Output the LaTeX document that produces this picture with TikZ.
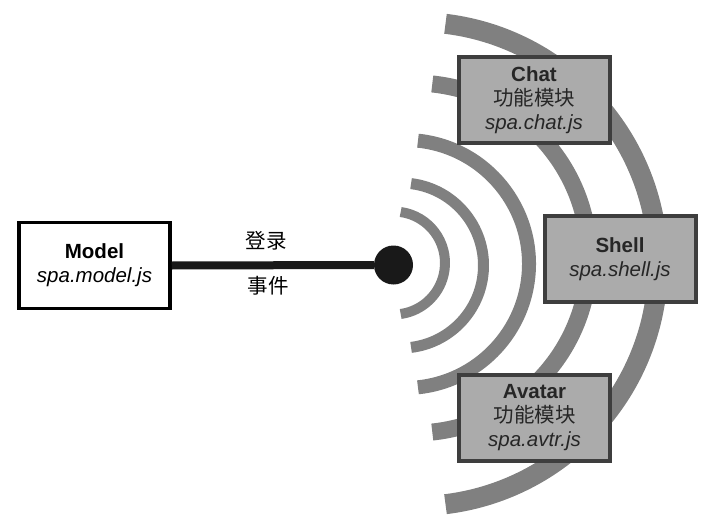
\documentclass[tikz,border=0pt]{standalone}
\usepackage{fontspec}
\setmainfont{Liberation Sans}
\newfontfamily\cjk{Noto Sans CJK SC}
\definecolor{wavegray}{RGB}{128,128,128}
\definecolor{modfill}{RGB}{171,171,171}
\definecolor{modedge}{RGB}{62,62,62}
\tikzset{
  txt/.style={font=\fontsize{20.5}{24}\selectfont, align=center},
  module/.style={txt, draw=modedge, line width=4pt, fill=modfill, text=black!85,
    minimum width=151pt, minimum height=86pt, inner sep=0pt},
  modelbox/.style={module, draw=black, fill=white, text=black, line width=3.5pt},
  wave/.style={draw=wavegray, line cap=butt}
}
\begin{document}
\begin{tikzpicture}[x=1pt, y=-1pt]
    \useasboundingbox (0,0) rectangle (712,524);
    % Arcs
    \draw[wave, line width=10pt] (393.5,263) ++(-82:51.5) arc[start angle=-82, end angle=82, radius=51.5];
    \draw[wave, line width=11pt] (401,265.5) ++(-83:82.5) arc[start angle=-83, end angle=83, radius=82.5];
    \draw[wave, line width=14pt] (405,264) ++(-84:124) arc[start angle=-84, end angle=84, radius=124];
    \draw[wave, line width=17pt] (414,258) ++(-84:175) arc[start angle=-84, end angle=84, radius=175];
    \draw[wave, line width=20pt] (416,264) ++(-83:242) arc[start angle=-83, end angle=83, radius=242];

    \node[modelbox] (model) at (94.5,265.5) {\textbf{Model}\\\textit{spa.model.js}};
    \node[module] (chat) at (534,100) {\textbf{Chat}\\{\cjk 功能模块}\\\textit{spa.chat.js}};
    \node[module] (shell) at (620,259) {\textbf{Shell}\\\textit{spa.shell.js}};
    \node[module] (avatar) at (534.5,417.5) {\textbf{Avatar}\\{\cjk 功能模块}\\\textit{spa.avtr.js}};

    % Event line
    \node[circle, fill=black!90, minimum size=39pt, inner sep=0pt] (hub) at (393.5,265) {};
    \draw[line width=8pt, black!90] (model.east) -- (hub.west);
    \node[txt] (login) at (266,241) {\cjk 登录};
    \node[txt] (event) at (268,286) {\cjk 事件};
\end{tikzpicture}
\end{document}
